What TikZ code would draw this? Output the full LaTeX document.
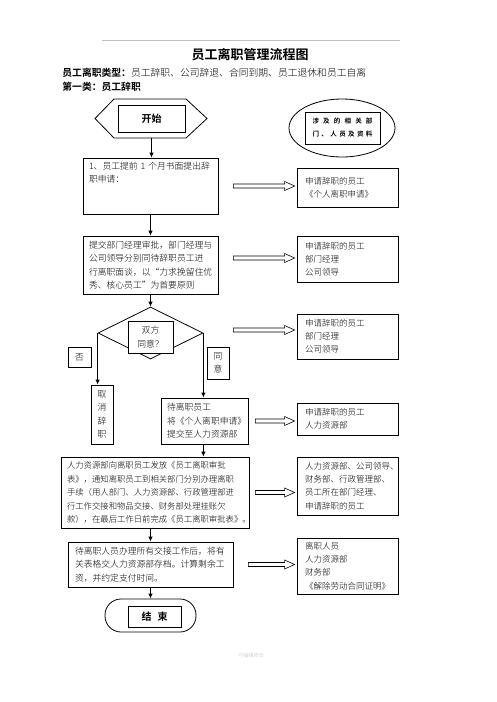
\documentclass[tikz,border=0pt]{standalone}
\usepackage{fontspec}
\setmainfont{Noto Sans CJK SC}[UprightFont=* Light, BoldFont=* Bold]
\usetikzlibrary{arrows.meta,shapes.geometric,calc}

\begin{document}
\begin{tikzpicture}[x=1pt, y=-1pt, line width=0.8pt,
    box/.style={draw, fill=white, inner sep=0pt, align=center, font=\fontsize{8.8}{13.5}\selectfont},
    textbox/.style={box, align=left, inner xsep=#1},
    sidebox/.style={box, align=left, inner xsep=8pt, text width=85pt, font=\fontsize{8.5}{13.2}\selectfont},
    post/.style={-{Latex[length=5pt,width=4.5pt]}},
    fat/.style={line width=0.6pt, fill=white, to path={let \p1=(\tikztostart), \p2=(\tikztotarget) in
        (\x1,\y1+2pt) -- (\x2-10pt,\y1+2pt) -- (\x2-10pt,\y1+4.5pt) -- (\x2,\y1)
        -- (\x2-10pt,\y1-4.5pt) -- (\x2-10pt,\y1-2pt) -- (\x1,\y1-2pt) -- cycle}}]

  \useasboundingbox (0,0) rectangle (496,702);

  \draw[gray!50, line width=0.5pt] (102,40) -- (400,40);
  \node[font=\fontsize{13}{15}\selectfont\bfseries] (title) at (250,55) {员工离职管理流程图};
  \node[anchor=west, inner sep=0pt, font=\fontsize{9.8}{12}\selectfont] (kind) at (62,73)
    {\textbf{员工离职类型：}员工辞职、公司辞退、合同到期、员工退休和员工自离};
  \node[anchor=west, inner sep=0pt, font=\fontsize{9.8}{12}\selectfont\bfseries] (first) at (62,87) {第一类：员工辞职};

  % start and info
  \node[box, minimum width=67pt, minimum height=27pt, font=\fontsize{10}{12}\selectfont\bfseries] (st) at (151.5,118.5) {开始};
  \draw (95,118.5) -- (114,99) -- (186,99) -- (207,118.5) -- (186,138) -- (114,138) -- cycle;
  \coordinate (stb) at (151.5,138);

  \node[ellipse, draw, minimum width=106pt, minimum height=58pt] (info) at (342,128) {};
  \node[box, minimum width=75pt, minimum height=32pt, font=\fontsize{6.5}{13}\selectfont\bfseries] (infotxt) at (342.5,128)
    {\makebox[60pt][s]{涉\hfill 及\hfill 的\hfill 相\hfill 关\hfill 部}\\\makebox[60pt][s]{门\hfill 、\hfill 人\hfill 员\hfill 及\hfill 资\hfill 料}};

  % left column
  \node[textbox=6pt, text width=123pt, minimum height=56pt] (b1) at (150.5,186)
    {1、员工提前~1~个月书面提出辞\\职申请：\\\mbox{}\\\mbox{}};
  \node[textbox=6pt, text width=123pt, minimum height=58pt] (b2) at (150.5,265)
    {提交部门经理审批，部门经理与\\公司领导分别同待辞职员工进\\行离职面谈，以“力求挽留住优\\秀、核心员工”为首要原则};
  \node[diamond, draw, minimum width=105pt, minimum height=52pt, inner sep=0pt] (dia) at (150.5,333) {};
  \node[box, minimum width=45pt, minimum height=32pt] (agree) at (150.5,337) {双方\\同意？};
  \node[box, minimum width=23pt, minimum height=20pt] (no) at (79.5,357) {否};
  \node[box, minimum width=22pt, minimum height=32pt] (yes) at (218,363) {同\\意};
  \node[box, minimum width=22pt, minimum height=59pt] (cancel) at (102,414.5) {取\\消\\辞\\职};
  \node[textbox=6pt, text width=75pt, minimum height=46pt] (b4) at (204.5,421)
    {待离职员工\\将《个人离职申请》\\提交至人力资源部};
  \node[textbox=6pt, text width=176pt, minimum height=71pt, font=\fontsize{8.35}{13.5}\selectfont] (b5) at (155,492.5)
    {人力资源部向离职员工发放《员工离职审批\\表》，通知离职员工到相关部门分别办理离职\\手续（用人部门、人力资源部、行政管理部进\\行工作交接和物品交接、财务部处理挂账欠\\款），在最后工作日前完成《员工离职审批表》。};
  \node[textbox=7pt, text width=151pt, minimum height=45pt] (b6) at (150.5,564.5)
    {待离职人员办理所有交接工作后，将有\\关表格交人力资源部存档。计算剩余工\\资，并约定支付时间。};
  \node[draw, rounded corners=16pt, minimum width=91pt, minimum height=33pt] (fin) at (150.5,615.5) {};
  \node[box, minimum width=53pt, minimum height=21pt, font=\fontsize{10}{12}\selectfont\bfseries] (fintxt) at (154.5,616.5) {结\hspace{0.6em}束};

  % right column
  \foreach \n/\y/\h/\t in {r1/187.5/39/申请辞职的员工\\《个人离职申请》,
      r2/259/46/申请辞职的员工\\部门经理\\公司领导,
      r3/336.5/45/申请辞职的员工\\部门经理\\公司领导,
      r4/419/32/申请辞职的员工\\人力资源部,
      r5/486/58/人力资源部、公司领导、\\财务部、行政管理部、\\员工所在部门经理、\\申请辞职的员工,
      r6/566/56/离职人员\\人力资源部\\财务部\\《解除劳动合同证明》}
    \node[sidebox, minimum height=\h pt] (\n) at (347.5,\y) {\t};

  \foreach \l/\r/\gap/\dy in {b1/r1/15/0, b2/r2/15/-7, dia/r3/30/-3, b4/r4/7/0, b5/r5/6/0, b6/r6/15/0} {
    \coordinate (s) at ($(\l.east)+(\gap,\dy)$);
    \draw[fat] (s) to ([xshift=-2pt]\r.west |- s);
  }

  \draw[post] (stb) -- (stb |- b1.north);
  \draw[post] (b1) -- (b2);
  \draw[post] (b2) -- (dia);
  \draw[post] (dia.west) -- (dia.west |- cancel.north);
  \draw[post] (dia.east) -- (dia.east |- b4.north);
  \draw[post] (dia.east |- b4.south) -- (dia.east |- b5.north);
  \draw[post] (b6.north |- b5.south) -- (b6.north);
  \draw[post] (b6) -- (fin);

  \node[text=gray!50, font=\fontsize{5}{6}\selectfont] (foot) at (251,656) {-可编辑修改-};

\end{tikzpicture}
\end{document}
